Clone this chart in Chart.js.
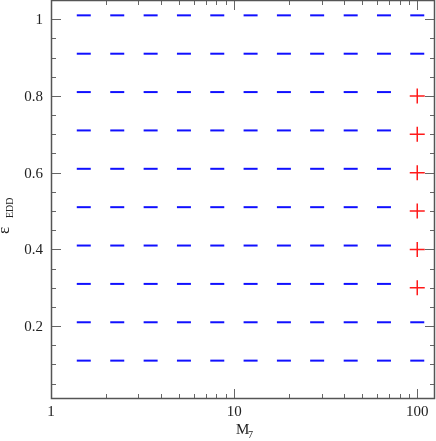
<!DOCTYPE html>
<html>
<head>
<meta charset="utf-8">
<script src="https://cdn.jsdelivr.net/npm/chart.js@4"></script>
<style>
  html, body { margin: 0; padding: 0; background: #fff; }
  #wrap { width: 436px; height: 441px; }
</style>
</head>
<body>
<div id="wrap"><canvas id="chart" width="436" height="441"></canvas></div>
<script>
// grid of masses (M_7) where the blue dashes sit
let massGrid = [1.51, 2.30, 3.50, 5.32, 8.09, 12.3, 18.7, 28.4, 43.3, 65.8, 100];
// eddington ratios of the blue rows
let eddRows = [1.01, 0.91, 0.81, 0.71, 0.61, 0.51, 0.41, 0.31, 0.21, 0.11];
// rows that have no blue dash at M_7 = 100 (the red crosses are there instead)
let missingAt100 = [0.81, 0.71, 0.61, 0.51, 0.41, 0.31];

let redX = [100, 100, 100, 100, 100, 100];
let redY = [0.8, 0.7, 0.6, 0.5, 0.4, 0.3];

let xMajor = [1, 10, 100];
let xMinor = [2, 3, 4, 5, 6, 7, 8, 9, 20, 30, 40, 50, 60, 70, 80, 90];
let yMajor = [0.2, 0.4, 0.6, 0.8, 1];
let yMinor = [0.05, 0.1, 0.15, 0.25, 0.3, 0.35, 0.45, 0.5, 0.55, 0.65, 0.7, 0.75, 0.85, 0.9, 0.95];
let xLabels = ['1', '10', '100'];
let yLabels = ['0.2', '0.4', '0.6', '0.8', '1'];

let bluePoints = [];
eddRows.forEach(function (y) {
    massGrid.forEach(function (x) {
        if (x === 100 && missingAt100.indexOf(y) >= 0) return;
        bluePoints.push({x: x, y: y});
    });
});
let redPoints = redX.map(function (x, i) { return {x: x, y: redY[i]}; });

const SERIF = '"Liberation Serif", "DejaVu Serif", serif';

// frame, inward ticks on all four sides, labels and axis titles
const framePlugin = {
    id: 'frame',
    beforeDatasetsDraw(chart) {
        const ctx = chart.ctx;
        const a = chart.chartArea;
        const xs = chart.scales.x, ys = chart.scales.y;
        ctx.save();
        ctx.strokeStyle = '#666';
        ctx.lineWidth = 1;
        function xTick(v, len) {
            const px = Math.round(xs.getPixelForValue(v)) + 0.5;
            ctx.beginPath();
            ctx.moveTo(px, a.bottom); ctx.lineTo(px, a.bottom - len);
            ctx.moveTo(px, a.top); ctx.lineTo(px, a.top + len);
            ctx.stroke();
        }
        function yTick(v, len) {
            const py = Math.round(ys.getPixelForValue(v)) + 0.5;
            ctx.beginPath();
            ctx.moveTo(a.left, py); ctx.lineTo(a.left + len, py);
            ctx.moveTo(a.right, py); ctx.lineTo(a.right - len, py);
            ctx.stroke();
        }
        xMajor.forEach(v => xTick(v, 10));
        xMinor.forEach(v => xTick(v, 5));
        yMajor.forEach(v => yTick(v, 10));
        yMinor.forEach(v => yTick(v, 5));

        ctx.strokeStyle = '#555';
        ctx.lineWidth = 1.5;
        ctx.strokeRect(a.left + 0.5, a.top + 0.5, a.right - a.left - 1, a.bottom - a.top - 1);

        // tick labels
        ctx.fillStyle = '#222';
        ctx.font = '15px ' + SERIF;
        ctx.textAlign = 'center';
        ctx.textBaseline = 'middle';
        xMajor.forEach((v, i) => ctx.fillText(xLabels[i], xs.getPixelForValue(v), a.bottom + 13));
        ctx.textAlign = 'right';
        yMajor.forEach((v, i) => ctx.fillText(yLabels[i], a.left - 8, ys.getPixelForValue(v) + 1));

        // x title: M_7
        ctx.textAlign = 'left';
        ctx.textBaseline = 'alphabetic';
        ctx.font = '15px ' + SERIF;
        ctx.fillText('M', 236, 434);
        ctx.font = '10px ' + SERIF;
        ctx.fillText('7', 248, 438);

        // y title: epsilon_EDD, rotated
        ctx.translate(9, 234);
        ctx.rotate(-Math.PI / 2);
        ctx.font = '17px ' + SERIF;
        ctx.fillText('\u03B5', 0, 0);
        ctx.font = '10px ' + SERIF;
        ctx.fillText('EDD', 16, 4);
        ctx.restore();
    }
};

const ctx = document.getElementById('chart').getContext('2d');
let chart = new Chart(ctx, {
    type: 'scatter',
    data: {
        datasets: [{
            label: 'grid',
            data: bluePoints,
            pointStyle: 'line',
            pointRadius: 7,
            pointHoverRadius: 7,
            borderColor: '#1010ff',
            backgroundColor: '#1010ff',
            borderWidth: 2
        }, {
            label: 'selected',
            data: redPoints,
            pointStyle: 'cross',
            pointRadius: 7.5,
            pointHoverRadius: 7.5,
            borderColor: '#ff1a1a',
            backgroundColor: '#ff1a1a',
            borderWidth: 1.5
        }]
    },
    options: {
        responsive: false,
        animation: false,
        layout: { autoPadding: false, padding: { left: 51, right: 1, top: 0, bottom: 42 } },
        plugins: { legend: { display: false }, tooltip: { enabled: false } },
        scales: {
            x: { type: 'logarithmic', min: 1, max: 125, display: false },
            y: { type: 'linear', min: 0.01, max: 1.05, display: false }
        }
    },
    plugins: [framePlugin]
});
</script>
</body>
</html>
